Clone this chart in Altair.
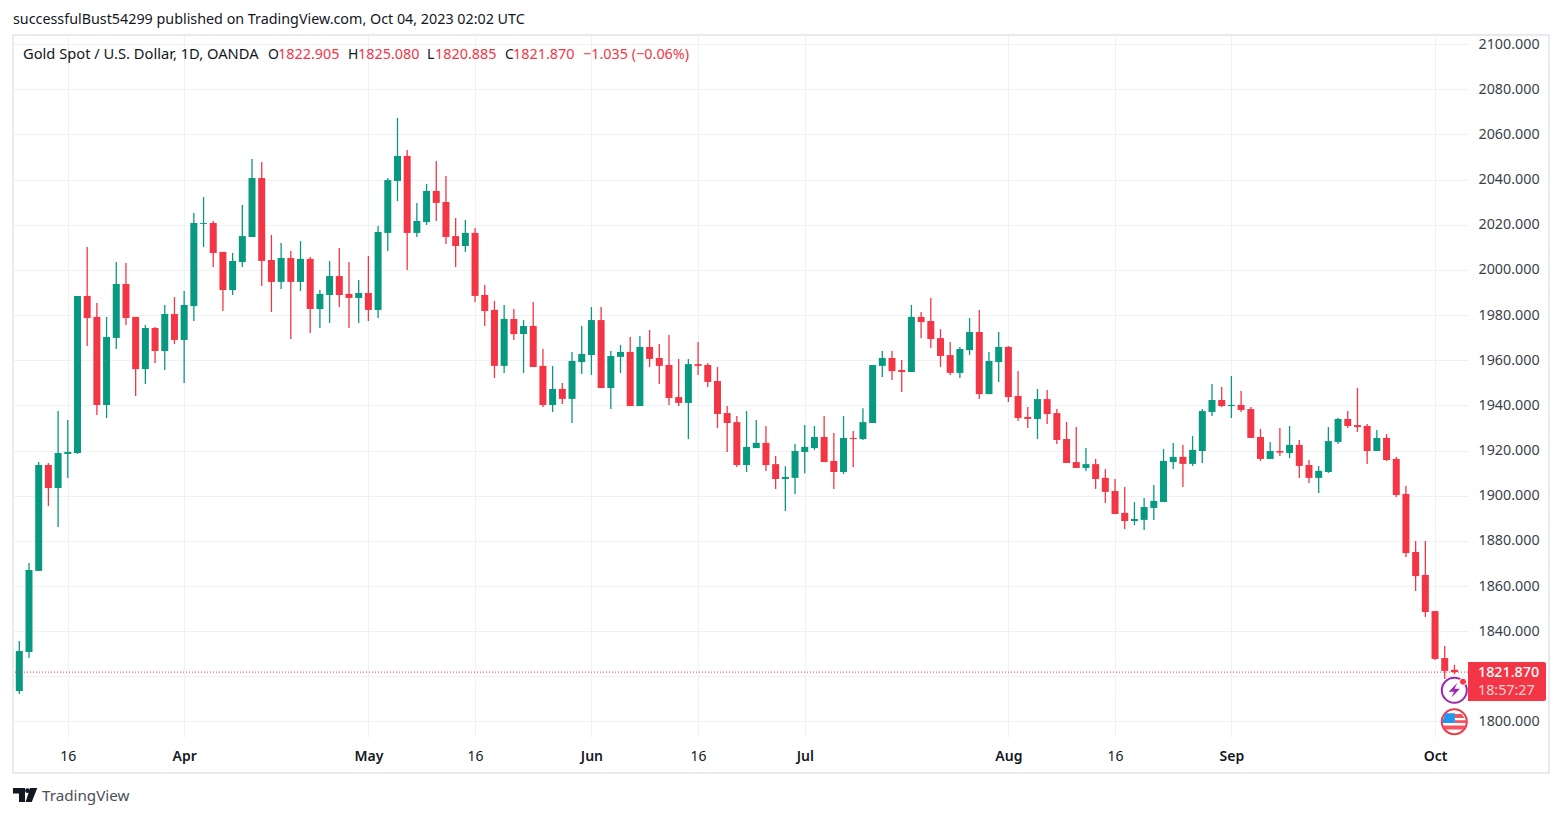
import altair as alt
import pandas as pd

opens = [1813.5,1830.8,1866.7,1913.6,1903.4,1918.5,1918.9,1988.5,1979.2,1940.2,
1969.9,1993.8,1979.2,1956.1,1974.3,1964.1,1980.5,1969.0,1984.0,2020.4,
2020.8,2008.0,1991.1,2003.5,2014.6,2040.7,2004.4,1994.7,2005.3,1994.7,
2004.9,1982.7,1988.9,1997.3,1989.4,1987.6,1989.8,1982.3,2016.4,2039.4,
2050.5,2016.4,2021.2,2035.0,2030.1,2015.0,2010.6,2016.4,1988.9,1982.3,
1957.5,1978.3,1971.6,1975.2,1957.5,1940.2,1947.3,1942.9,1959.2,1962.3,
1977.8,1947.7,1961.5,1963.7,1939.7,1965.9,1961.0,1957.9,1943.7,1941.1,
1958.3,1957.9,1950.8,1936.6,1932.6,1913.6,1921.1,1923.4,1914.0,1907.4,
1907.9,1919.4,1921.1,1926.0,1915.4,1910.5,1925.6,1925.1,1932.2,1957.5,
1961.0,1955.7,1954.8,1979.2,1977.4,1969.8,1962.3,1954.4,1964.5,1972.5,
1945.0,1959.2,1965.9,1944.2,1934.9,1934.0,1942.8,1936.6,1925.1,1914.9,
1912.3,1914.0,1907.9,1902.1,1892.4,1888.8,1889.3,1894.6,1897.2,1914.9,
1917.2,1914.1,1919.8,1937.1,1942.4,1939.7,1940.2,1938.4,1926.0,1916.3,
1919.8,1918.9,1922.5,1913.6,1907.9,1910.5,1923.8,1934.0,1931.3,1930.9,
1919.8,1925.6,1916.3,1900.8,1875.1,1864.9,1848.9,1828.1,1822.905]

closes = [1831.2,1867.1,1913.6,1903.4,1918.9,1919.4,1988.5,1978.7,1940.2,1970.3,
1993.8,1978.7,1956.1,1974.3,1964.1,1980.5,1969.0,1984.5,2020.8,2020.8,
2007.5,1991.1,2004.0,2015.0,2040.7,2004.0,1994.7,2005.3,1994.7,2004.9,
1982.7,1989.4,1997.3,1988.9,1987.6,1989.8,1982.3,2016.8,2039.8,2050.5,
2016.4,2021.7,2035.0,2029.7,2014.6,2010.6,2016.4,1988.5,1981.8,1957.5,
1978.3,1971.6,1975.2,1957.0,1940.2,1947.3,1942.9,1959.7,1962.8,1977.8,
1947.7,1961.9,1963.7,1939.7,1965.9,1960.6,1957.5,1943.3,1941.1,1958.3,
1957.5,1950.4,1936.2,1932.2,1913.6,1921.6,1923.4,1913.6,1907.4,1908.3,
1919.8,1921.6,1926.0,1914.9,1910.5,1925.6,1925.1,1932.6,1957.9,1961.0,
1955.2,1954.8,1979.2,1976.9,1969.4,1961.9,1954.4,1965.0,1972.5,1945.0,
1959.7,1965.9,1943.7,1934.4,1934.0,1942.8,1936.2,1924.7,1914.5,1912.3,
1914.0,1907.4,1901.7,1891.9,1888.8,1889.7,1895.0,1897.7,1915.4,1917.2,
1914.1,1920.3,1937.5,1942.4,1939.7,1940.2,1938.0,1925.6,1916.3,1919.8,
1919.1,1922.5,1913.2,1907.9,1911.0,1924.2,1934.0,1930.9,1930.4,1919.8,
1925.6,1915.8,1900.3,1874.6,1864.4,1848.5,1827.7,1822.4,1821.87]

highs = [1835.7,1870.2,1914.9,1914.5,1937.5,1933.5,1988.5,2010.2,1985.4,1979.2,
2003.5,2003.1,1979.2,1975.6,1974.7,1984.5,1988.0,1990.7,2025.2,2032.3,
2021.7,2008.0,2007.5,2028.8,2049.2,2047.8,2015.5,2011.9,2008.4,2012.8,
2005.7,1991.1,2004.0,2009.7,2003.5,1995.6,2006.2,2019.5,2040.7,2067.3,
2053.1,2029.7,2038.1,2048.3,2041.6,2023.0,2022.1,2018.6,1993.3,1986.3,
1984.5,1982.7,1977.8,1985.8,1965.0,1957.5,1949.9,1963.7,1975.2,1983.6,
1983.6,1964.1,1966.8,1970.3,1970.7,1973.4,1967.2,1971.2,1960.6,1960.6,
1968.1,1958.8,1957.0,1939.7,1935.3,1937.5,1933.5,1930.9,1917.6,1913.1,
1922.9,1931.3,1930.9,1935.3,1927.8,1935.3,1928.7,1938.8,1957.9,1964.1,
1964.1,1960.1,1984.5,1981.4,1987.6,1973.8,1968.1,1965.9,1978.7,1982.3,
1963.7,1972.5,1966.3,1955.2,1939.3,1947.3,1946.8,1938.4,1932.7,1930.4,
1921.1,1916.3,1911.8,1907.4,1903.9,1897.2,1899.0,1904.8,1920.7,1923.4,
1922.5,1926.4,1938.4,1949.5,1948.2,1953.0,1946.4,1939.3,1929.6,1923.8,
1930.0,1930.9,1924.7,1915.8,1913.2,1930.4,1934.4,1937.5,1947.7,1931.8,
1929.1,1927.3,1917.2,1904.3,1879.9,1879.9,1848.9,1833.4,1825.08]

lows = [1812.2,1828.1,1866.7,1895.4,1886.1,1907.9,1918.5,1966.3,1935.8,1934.4,
1965.0,1975.6,1944.2,1949.5,1958.8,1955.7,1967.2,1949.9,1977.4,2010.2,
2001.3,1981.8,1988.9,2001.3,2014.6,1992.9,1981.4,1991.6,1969.4,1990.7,
1972.1,1974.3,1976.5,1983.6,1974.3,1976.5,1977.4,1978.7,2008.4,2030.5,
2000.0,2014.6,2019.9,2021.7,2011.5,2001.3,2008.0,1985.8,1975.2,1952.1,
1954.4,1969.0,1954.4,1957.0,1939.3,1937.1,1940.6,1932.2,1953.9,1953.5,
1947.7,1938.4,1954.4,1939.7,1939.7,1957.0,1949.5,1940.2,1939.7,1925.1,
1953.5,1948.2,1930.0,1919.4,1912.7,1910.5,1921.1,1910.9,1903.0,1893.2,
1900.8,1910.0,1920.3,1914.9,1903.0,1909.6,1912.7,1924.7,1932.2,1952.6,
1951.3,1945.9,1954.8,1969.8,1965.4,1957.0,1953.5,1952.1,1962.3,1942.8,
1945.0,1950.4,1941.5,1933.1,1930.0,1925.1,1931.8,1922.9,1914.5,1912.3,
1911.0,1903.0,1896.8,1891.9,1885.3,1887.0,1884.8,1889.3,1897.2,1911.8,
1903.9,1913.2,1914.5,1935.3,1939.3,1934.4,1937.1,1925.6,1915.4,1916.3,
1917.6,1916.7,1907.9,1905.6,1901.2,1910.1,1922.9,1930.0,1928.2,1914.1,
1919.8,1915.4,1899.4,1872.9,1857.8,1846.3,1827.2,1818.8,1820.885]

tick_index = [5, 17, 36, 47, 59, 70, 81, 102, 113, 125, 146]
tick_text = ["16", "Apr", "May", "16", "Jun", "16", "Jul", "Aug", "16", "Sep", "Oct"]
minor_ticks = [5, 47, 70, 113]
price_ticks = list(range(1800, 2101, 20))
last_price = 1821.87

GREEN = "#089981"
RED = "#F23645"
INK = "#131722"
GRID = "#F0F1F3"
FRAME = "#E9EAF0"
FONT = "Noto Sans"

df = pd.DataFrame({
    "i": list(range(len(opens))),
    "o": opens, "h": highs, "l": lows, "c": closes,
})
df["dir"] = ["up" if c >= o else "down" for o, c in zip(opens, closes)]

xs = alt.Scale(domain=[-0.65, 149.4], nice=False, zero=False, padding=0)
ys = alt.Scale(domain=[1793.13, 2104.07], nice=False, zero=False)
colors = alt.Scale(domain=["up", "down"], range=[GREEN, RED])

label_map = "{" + ",".join(f"{i}:'{t}'" for i, t in zip(tick_index, tick_text)) + "}"
minor_test = " || ".join(f"datum.value == {i}" for i in minor_ticks)

x_axis = alt.Axis(values=tick_index, labelExpr=f"{label_map}[datum.value]", title=None,
                  grid=True, gridColor=GRID, gridWidth=1, domain=False, ticks=False,
                  labelFont=FONT, labelFontSize=14, labelColor=INK, labelPadding=12,
                  labelFontWeight={"condition": {"test": minor_test, "value": "normal"}, "value": 600},
                  labelAngle=0, labelOverlap=False, labelFlush=False)
y_axis = alt.Axis(values=price_ticks, orient="right", title=None,
                  labelExpr="datum.value == 1820 ? '' : format(datum.value, '.3f')",
                  grid=True, gridColor=GRID, gridWidth=1, domain=False, ticks=False,
                  labelFont=FONT, labelFontSize=14.3, labelColor="#3b3f4a", labelPadding=10,
                  labelOverlap=False, labelFlush=False)

base = alt.Chart(df)
wicks = base.mark_rule(strokeWidth=1.3).encode(
    x=alt.X("i:Q", scale=xs, axis=x_axis),
    y=alt.Y("l:Q", scale=ys, axis=y_axis),
    y2="h:Q",
    color=alt.Color("dir:N", scale=colors, legend=None),
)
bodies = base.mark_bar(size=7, orient="vertical").encode(
    x=alt.X("i:Q", scale=xs, axis=x_axis),
    y=alt.Y("o:Q", scale=ys, axis=y_axis),
    y2="c:Q",
    color=alt.Color("dir:N", scale=colors, legend=None),
)
price_line = alt.Chart(pd.DataFrame({"p": [last_price]})).mark_rule(
    color=RED, strokeWidth=1, strokeDash=[1, 2]
).encode(y=alt.Y("p:Q", scale=ys, axis=y_axis))

OX, OY = 13, 35

def txt(s, x, y, color=INK, size=14, align="left", weight="normal", font=FONT):
    return alt.Chart().mark_text(
        text=s, align=align, baseline="middle", color=color, fontSize=size,
        fontWeight=weight, font=font
    ).encode(x=alt.value(x - OX), y=alt.value(y - OY))

def sym(shape, x, y, r, fill=None, stroke=None, sw=0):
    kw = dict(shape=shape, size=(2 * r) ** 2, filled=fill is not None, opacity=1)
    if fill is not None:
        kw["fill"] = fill
    if stroke is not None:
        kw["stroke"] = stroke
        kw["strokeWidth"] = sw
    return alt.Chart().mark_point(**kw).encode(x=alt.value(x - OX), y=alt.value(y - OY))

frame = alt.Chart().mark_rect(fillOpacity=0, stroke=FRAME, strokeWidth=2).encode(
    x=alt.value(0), x2=alt.value(1536), y=alt.value(0), y2=alt.value(738))

tag = alt.Chart().mark_rect(color=RED, cornerRadiusTopRight=2, cornerRadiusBottomRight=2).encode(
    x=alt.value(1468 - OX), x2=alt.value(1546 - OX), y=alt.value(662 - OY), y2=alt.value(701 - OY))

BOLT = "M0.25,-0.6 L-0.45,0.12 L-0.02,0.12 L-0.25,0.6 L0.45,-0.12 L0.02,-0.12 Z"
LOGO = ("M-0.98,-0.57 L0,-0.57 L0,0.57 L-0.49,0.57 L-0.49,-0.12 L-0.98,-0.12 Z "
        "M0.41,-0.57 L1,-0.57 L0.55,0.57 L0.05,0.57 Z")
CANTON = "M-0.72,-0.68 L0.05,-0.68 L0.05,0.1 L-0.98,0.1 Z"
STRIPE1 = "M0.05,-0.62 L0.6,-0.62 L0.8,-0.3 L0.05,-0.3 Z"
STRIPE0 = "M0.05,-0.12 L0.98,-0.12 L0.98,0.1 L0.05,0.1 Z"
STRIPE2 = "M-0.92,0.3 L0.92,0.3 L0.72,0.62 L-0.72,0.62 Z"

annotations = [
    txt("successfulBust54299 published on TradingView.com, Oct 04, 2023 02:02 UTC", 13, 20, size=14.32),
    txt("Gold Spot / U.S. Dollar, 1D, OANDA", 23, 55, size=14.7),
    txt("O", 268, 55), txt("1822.905", 278, 55, RED, size=14.4),
    txt("H", 348, 55), txt("1825.080", 358, 55, RED, size=14.4),
    txt("L", 427, 55), txt("1820.885", 435, 55, RED, size=14.4),
    txt("C", 505, 55), txt("1821.870", 513, 55, RED, size=14.4),
    txt("\u22121.035 (\u22120.06%)", 583, 55, RED, size=14.4),
    tag,
    txt("1821.870", 1478, 673, "#FFFFFF", size=14.3, weight=500),
    txt("18:57:27", 1478, 691, "#FBD5D9", size=14.3),
    sym("circle", 1454.3, 690.3, 12.5, fill="#FFFFFF", stroke="#9C27B0", sw=2),
    sym(BOLT, 1454.3, 690.3, 12.5, fill="#9C27B0"),
    sym("circle", 1463, 681.7, 3.5, fill=RED, stroke="#FFFFFF", sw=1),
    sym("circle", 1454.3, 721.7, 12.5, fill="#FFFFFF", stroke=RED, sw=2),
    sym(CANTON, 1454.3, 721.7, 12.5, fill="#2196F3"),
    sym(STRIPE1, 1454.3, 721.7, 12.5, fill="#F7525F"),
    sym(STRIPE0, 1454.3, 721.7, 12.5, fill="#F7525F"),
    sym(STRIPE2, 1454.3, 721.7, 12.5, fill="#F7525F"),
    sym(LOGO, 25, 795, 12.3, fill=INK),
    sym("circle", 27.5, 790.7, 2.4, fill=INK),
    txt("TradingView", 42, 796, "#4A4E5A", size=15.2),
]

chart = alt.layer(wicks, bodies, price_line, frame, *annotations).properties(
    width=1455, height=702, autosize="none",
    padding={"left": 5, "top": 27, "right": 86, "bottom": 72},
    background="#FFFFFF",
).configure_view(stroke=None)

chart.save("out.html", embed_options={"renderer": "svg", "actions": False})
